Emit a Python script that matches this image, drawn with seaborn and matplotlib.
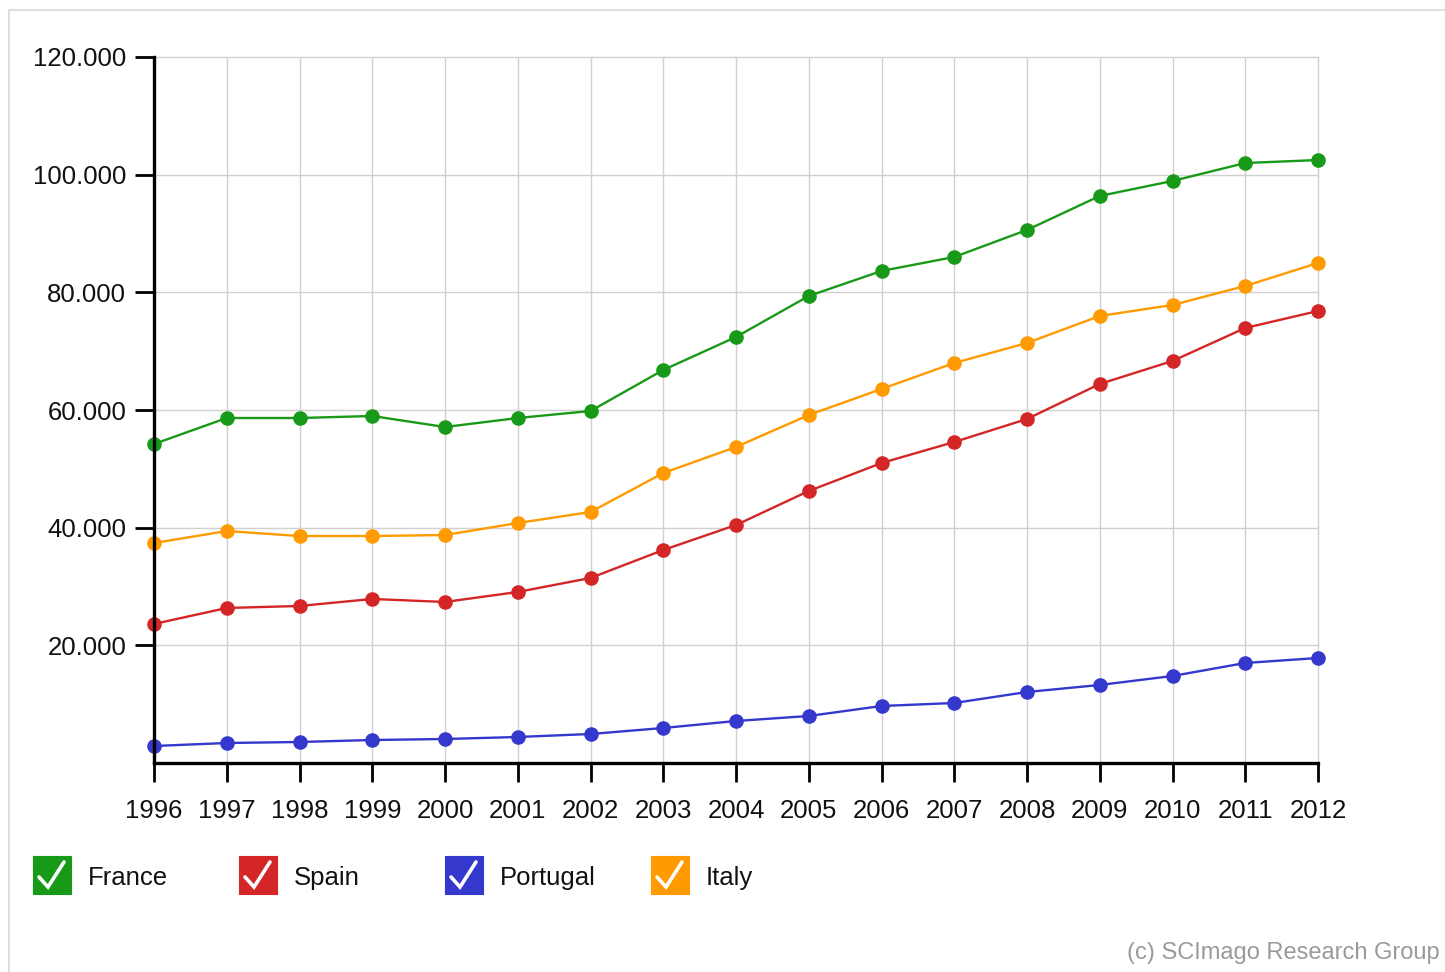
import numpy as np
import pandas as pd
import matplotlib
matplotlib.use("Agg")
import matplotlib.pyplot as plt
from matplotlib.patches import Rectangle
from matplotlib.lines import Line2D
import seaborn as sns

years = list(range(1996, 2013))
countries = ["France", "Spain", "Portugal", "Italy"]
france = [54220, 58640, 58640, 58980, 57110, 58640, 59830, 66800, 72410,
          79380, 83630, 86010, 90600, 96380, 98930, 101980, 102490]
spain = [23630, 26350, 26690, 27880, 27370, 29070, 31450, 36200, 40450,
         46230, 50990, 54560, 58470, 64420, 68330, 73940, 76830]
portugal = [2890, 3400, 3570, 3910, 4080, 4420, 4930, 5950, 7140,
            7990, 9690, 10200, 12070, 13260, 14790, 17000, 17850]
italy = [37390, 39430, 38580, 38580, 38750, 40790, 42660, 49290, 53710,
         59150, 63570, 67990, 71390, 75980, 77850, 81080, 84990]
y_ticks = [20000, 40000, 60000, 80000, 100000, 120000]
colors = ["#189a18", "#d42626", "#3538cc", "#ff9a00"]
credit = "(c) SCImago Research Group"

series = {"France": france, "Spain": spain, "Portugal": portugal, "Italy": italy}
df = pd.DataFrame(
    [(c, y, v) for c in countries for y, v in zip(years, series[c])],
    columns=["country", "year", "documents"],
)

sns.set_theme(style="white")
plt.rcParams["font.family"] = ["Liberation Sans", "DejaVu Sans"]

W, H = 1445, 972
fig = plt.figure(figsize=(W / 100, H / 100), dpi=100)
fig.patch.set_facecolor("white")

# thin outer frame of the widget
fig.add_artist(Rectangle((9 / W, -0.1), 2.0, 1 - 10 / H + 0.1,
                         transform=fig.transFigure, fill=False,
                         edgecolor="#d8d8d8", linewidth=1.2))

ax = fig.add_axes([154 / W, 1 - 763 / H, (1318 - 154) / W, (763 - 57) / H])

sns.lineplot(data=df, x="year", y="documents", hue="country",
             hue_order=countries, palette=colors, ax=ax, legend=False,
             linewidth=1.7, marker="o", markersize=10.5, markeredgewidth=0)
for line in ax.lines:
    line.set_clip_on(False)
    line.set_zorder(3)

ax.set_xlim(years[0], years[-1])
ax.set_ylim(0, 120000)
ax.set_xticks(years)
ax.set_yticks(y_ticks)
ax.set_yticklabels([f"{v:,.0f}".replace(",", ".") for v in y_ticks])
ax.set_xlabel("")
ax.set_ylabel("")

ax.grid(True, color="#d0d0d0", linewidth=1.0)
ax.set_axisbelow(True)
for gl in ax.get_xgridlines() + ax.get_ygridlines():
    gl.set_clip_on(False)
for side in ["top", "right"]:
    ax.spines[side].set_visible(False)
for side in ["left", "bottom"]:
    ax.spines[side].set_color("black")
    ax.spines[side].set_linewidth(2.4)
    ax.spines[side].set_zorder(4)

ax.tick_params(axis="both", which="major", length=14, width=2, color="black",
               labelsize=18.5, labelcolor="#111111", left=True, bottom=True)
ax.tick_params(axis="y", pad=6)
ax.tick_params(axis="x", pad=12)

# legend: coloured check boxes with country names
def check_box(x_px, color, label):
    size = 38
    y_top = 856
    fig.add_artist(Rectangle((x_px / W, 1 - (y_top + size) / H), size / W, size / H,
                             transform=fig.transFigure, facecolor=color,
                             edgecolor=color, linewidth=0.8))
    cx = np.array([x_px + 6, x_px + 15, x_px + 31])
    cy = np.array([y_top + 21, y_top + 31, y_top + 6])
    fig.add_artist(Line2D(cx / W, 1 - cy / H, transform=fig.transFigure,
                          color="white", linewidth=2.6,
                          solid_capstyle="round", solid_joinstyle="miter"))
    fig.text((x_px + 55) / W, 1 - (y_top + 22) / H, label, fontsize=18.5,
             color="#111111", va="center", ha="left")

for i, (c, col) in enumerate(zip(countries, colors)):
    check_box(33 + 206 * i, col, c)

fig.text(1127 / W, 1 - 953 / H, credit, fontsize=17, color="#9a9a9a",
         va="center", ha="left")

fig.savefig("out.png", dpi=100)
